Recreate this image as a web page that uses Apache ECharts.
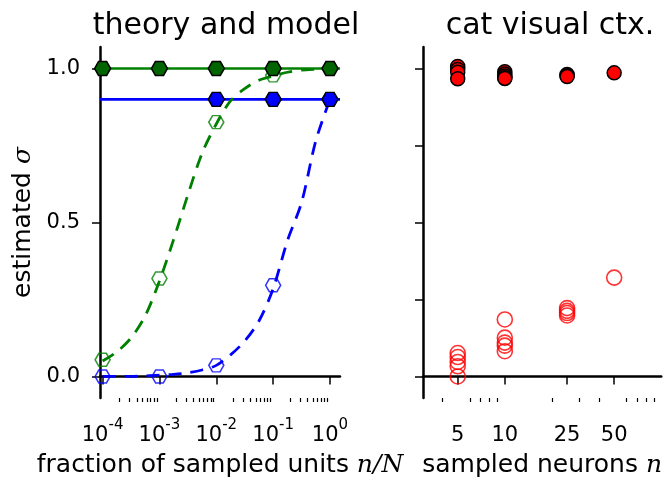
<!DOCTYPE html>
<html><head><meta charset="utf-8">
<script src="https://cdn.jsdelivr.net/npm/echarts@6/dist/echarts.min.js"></script>
<style>html,body{margin:0;padding:0;background:#fff}#c{width:665px;height:483px}</style>
</head><body><div id="c"></div>
<script>
// ---------- data ----------
const fracRange = [0.9e-4, 1.5];
const fracTicks = [1e-4, 1e-3, 1e-2, 1e-1, 1];
const fracMinor = [2e-4,3e-4,4e-4,5e-4,6e-4,7e-4,8e-4,9e-4,
                   2e-3,3e-3,4e-3,5e-3,6e-3,7e-3,8e-3,9e-3,
                   2e-2,3e-2,4e-2,5e-2,6e-2,7e-2,8e-2,9e-2,
                   0.2,0.3,0.4,0.5,0.6,0.7,0.8,0.9];
const yTicksLeft = [0, 0.5, 1.0];
const yTicksRight = [0, 0.25, 0.5, 0.75, 1.0];

// theory & model
const trueGreen = 1.0;   // solid green level
const trueBlue = 0.9;    // solid blue level
const greenFilledX = [1e-4, 1e-3, 1e-2, 1e-1, 1];
const greenFilledY = [1.0, 1.0, 1.0, 1.0, 1.0];
const blueFilledX = [1e-2, 1e-1, 1];
const blueFilledY = [0.9, 0.9, 0.9];
const hollowX = [1e-4, 1e-3, 1e-2, 1e-1, 1];
const greenHollowY = [0.054, 0.318, 0.826, 0.978, 1.0];
const blueHollowY = [0.0, 0.0, 0.036, 0.296, 0.9];
const curveLogX = [-4,-3.75,-3.5,-3.25,-3,-2.75,-2.5,-2.25,-2,-1.75,-1.5,-1.25,-1,-0.75,-0.5,-0.25,0];
const greenCurve = [0.05,0.08,0.125,0.197,0.31,0.445,0.59,0.725,0.82,0.895,0.935,0.962,0.976,0.988,0.995,0.998,1.0];
const blueCurve  = [0.0,0.0,0.0,0.002,0.004,0.007,0.012,0.021,0.036,0.07,0.115,0.18,0.285,0.44,0.565,0.765,0.9];

// cat visual cortex
const neuronRange = [3, 100];
const neuronTicks = [5, 10, 25, 50];
const neuronMinor = [4,6,7,8,9,20,30,40,60,70,80,90];
const catFilledN = [5,5,5,5, 10,10,10,10,10, 25,25,25, 50];
const catFilledY = [1.007,0.997,0.988,0.967, 0.99,0.982,0.976,0.97,0.968, 0.981,0.977,0.974, 0.986];
const catHollowN = [5,5,5,5,5, 10,10,10,10,10, 25,25,25,25, 50];
const catHollowY = [0.076,0.063,0.047,0.033,0.0, 0.185,0.126,0.11,0.1,0.082, 0.222,0.213,0.206,0.198, 0.321];

// ---------- chart ----------
const FONT = 'DejaVu Sans';
const GREEN = '#008000', DKGREEN = '#006400', BLUE = '#0000ff', RED = '#ff0000';
const HEX = 'path://M0,50 L25,6.7 L75,6.7 L100,50 L75,93.3 L25,93.3 Z';
const zip = (xs, ys) => xs.map((x, i) => [x, ys[i]]);
const curveX = curveLogX.map(e => Math.pow(10, e));

const tickLab = {fontFamily: FONT, fontSize: 21, color: '#000'};
function supFmt(v) {
  const e = Math.round(Math.log10(v));
  return '{b|10}{s|' + e + '}';
}
const axLine = {show: true, lineStyle: {color: '#000', width: 2.5}};
const nameStyle = {fontFamily: FONT, fontSize: 25, color: '#000',
  rich: {a: {fontFamily: FONT, fontSize: 25, color: '#000'},
         m: {fontFamily: 'DejaVu Serif', fontStyle: 'italic', fontSize: 25, color: '#000'}}};

function xMain(gi, range, ticks, fmt, rich, name, margin) {
  return {
    type: 'log', logBase: 10, gridIndex: gi, min: range[0], max: range[1], position: 'bottom',
    axisLine: axLine,
    axisTick: {show: true, customValues: ticks, length: 8, lineStyle: {color: '#000', width: 1.5}},
    axisLabel: {show: true, customValues: ticks, margin: margin, formatter: fmt, rich: rich, ...tickLab},
    splitLine: {show: false}, minorTick: {show: false},
    name: name, nameLocation: 'middle', nameGap: 55, nameTextStyle: nameStyle
  };
}
function xMinor(gi, range, ticks) {
  return {
    type: 'log', logBase: 10, gridIndex: gi, min: range[0], max: range[1], position: 'bottom',
    axisLine: {show: false},
    axisTick: {show: true, customValues: ticks, length: 4, lineStyle: {color: '#000', width: 1.2}},
    axisLabel: {show: false}, splitLine: {show: false}
  };
}
function yAx(gi, ticks, showLab, name) {
  return {
    type: 'value', gridIndex: gi, min: -0.07, max: 1.07,
    axisLine: axLine,
    axisTick: {show: true, customValues: ticks, length: 8, lineStyle: {color: '#000', width: 1.5}},
    axisLabel: {show: showLab, customValues: ticks, margin: 20, formatter: v => v.toFixed(1), ...tickLab},
    splitLine: {show: false},
    name: name, nameLocation: 'middle', nameRotate: 90, nameGap: 64, nameTextStyle: nameStyle
  };
}

const option = {
  animation: false,
  backgroundColor: '#fff',
  title: [
    {text: 'theory and model', left: 221, top: 6, textAlign: 'center',
     textStyle: {fontFamily: FONT, fontSize: 30, fontWeight: 'normal', color: '#000'}},
    {text: 'cat visual ctx.', left: 545, top: 6, textAlign: 'center',
     textStyle: {fontFamily: FONT, fontSize: 30, fontWeight: 'normal', color: '#000'}}
  ],
  grid: [
    {left: 100, top: 47, width: 240, height: 358},
    {left: 423, top: 47, width: 240, height: 358}
  ],
  xAxis: [
    xMain(0, fracRange, fracTicks, supFmt,
      {b: {fontFamily: FONT, fontSize: 21, color: '#000', lineHeight: 28, verticalAlign: 'bottom'},
       s: {fontFamily: FONT, fontSize: 15, color: '#000', lineHeight: 28, verticalAlign: 'top'}},
      '{a|fraction of sampled units }{m|n/N}', 20),
    xMinor(0, fracRange, fracMinor),
    xMain(1, neuronRange, neuronTicks, v => String(v), {}, '{a|sampled neurons }{m|n}', 27),
    xMinor(1, neuronRange, neuronMinor)
  ],
  yAxis: [
    yAx(0, yTicksLeft, true, '{a|estimated }{m|σ}'),
    yAx(1, yTicksRight, false, '')
  ],
  series: [
    {type: 'line', xAxisIndex: 0, yAxisIndex: 0, symbol: 'none', z: 2,
     data: fracRange.map(x => [x, trueGreen]), lineStyle: {color: GREEN, width: 2.6}},
    {type: 'line', xAxisIndex: 0, yAxisIndex: 0, symbol: 'none', z: 2,
     data: fracRange.map(x => [x, trueBlue]), lineStyle: {color: BLUE, width: 2.6}},
    {type: 'line', xAxisIndex: 0, yAxisIndex: 0, symbol: 'none', z: 3, smooth: 0.3,
     data: zip(curveX, greenCurve), lineStyle: {color: GREEN, width: 2.8, type: [13, 9]}},
    {type: 'line', xAxisIndex: 0, yAxisIndex: 0, symbol: 'none', z: 3, smooth: 0.3,
     data: zip(curveX, blueCurve), lineStyle: {color: BLUE, width: 2.8, type: [13, 9]}},
    {type: 'scatter', xAxisIndex: 0, yAxisIndex: 0, symbol: HEX, symbolSize: [15, 13], z: 4,
     data: zip(hollowX, greenHollowY),
     itemStyle: {color: 'rgba(0,0,0,0)', borderColor: GREEN, borderWidth: 1.5}},
    {type: 'scatter', xAxisIndex: 0, yAxisIndex: 0, symbol: HEX, symbolSize: [15, 13], z: 4,
     data: zip(hollowX, blueHollowY),
     itemStyle: {color: 'rgba(0,0,0,0)', borderColor: BLUE, borderWidth: 1.5}},
    {type: 'scatter', xAxisIndex: 0, yAxisIndex: 0, symbol: HEX, symbolSize: [16, 14], z: 5,
     data: zip(greenFilledX, greenFilledY),
     itemStyle: {color: DKGREEN, borderColor: '#000', borderWidth: 1.5, opacity: 1}},
    {type: 'scatter', xAxisIndex: 0, yAxisIndex: 0, symbol: HEX, symbolSize: [16, 14], z: 5,
     data: zip(blueFilledX, blueFilledY),
     itemStyle: {color: BLUE, borderColor: '#000', borderWidth: 1.5, opacity: 1}},
    {type: 'scatter', xAxisIndex: 2, yAxisIndex: 1, symbol: 'circle', symbolSize: 15, z: 4,
     data: zip(catHollowN, catHollowY),
     itemStyle: {color: 'rgba(0,0,0,0)', borderColor: RED, borderWidth: 1.6}},
    {type: 'scatter', xAxisIndex: 2, yAxisIndex: 1, symbol: 'circle', symbolSize: 14, z: 5,
     data: zip(catFilledN, catFilledY),
     itemStyle: {color: RED, borderColor: '#000', borderWidth: 1.5, opacity: 1}}
  ]
};
const chart = echarts.init(document.getElementById('c'), null, {renderer: 'canvas'});
chart.setOption(option);
</script></body></html>
